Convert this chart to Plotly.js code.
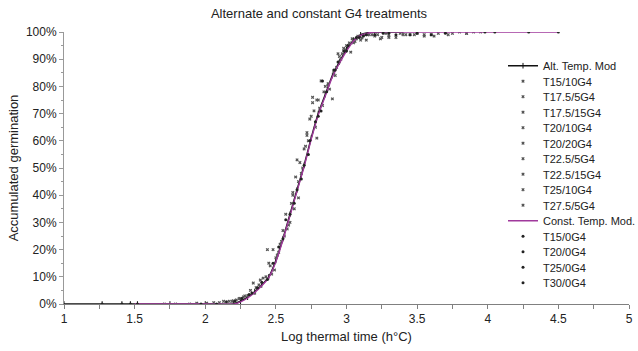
<!DOCTYPE html>
<html>
<head>
<meta charset="utf-8">
<script src="https://cdn.plot.ly/plotly-3.0.1.min.js"></script>
<style>html,body{margin:0;padding:0;background:#fff;}#chart{width:638px;height:351px;}</style>
</head>
<body>
<div id="chart"></div>
<script>
// Model curves
const altModX = [1.0, 1.27, 1.41, 1.47, 1.52, 1.75, 2.0, 2.2, 2.25, 2.3, 2.35, 2.4, 2.45, 2.5, 2.55, 2.6, 2.65, 2.7, 2.75, 2.8, 2.85, 2.9, 2.95, 3.0, 3.05, 3.1, 3.15, 3.2, 3.3, 3.4];
const altModY = [0, 0, 0, 0, 0, 0, 0, 0, 0.01, 0.025, 0.045, 0.07, 0.10, 0.16, 0.24, 0.33, 0.42, 0.51, 0.61, 0.70, 0.77, 0.84, 0.89, 0.935, 0.97, 0.99, 0.997, 1.0, 1.0, 1.0];
const constModX = [1.5, 1.75, 2.0, 2.21, 2.25, 2.3, 2.35, 2.4, 2.45, 2.5, 2.55, 2.6, 2.65, 2.7, 2.75, 2.8, 2.85, 2.9, 2.95, 3.0, 3.05, 3.1, 3.15, 3.2, 3.5, 4.0, 4.5];
const constModY = [0, 0, 0, 0, 0.008, 0.022, 0.042, 0.067, 0.097, 0.155, 0.235, 0.325, 0.415, 0.505, 0.605, 0.695, 0.765, 0.835, 0.885, 0.93, 0.967, 0.988, 0.996, 1.0, 1.0, 1.0, 1.0];

// Alternate temperature treatments
const altNames = ["T15/10G4", "T17.5/5G4", "T17.5/15G4", "T20/10G4", "T20/20G4", "T22.5/5G4", "T22.5/15G4", "T25/10G4", "T27.5/5G4"];
const altX = [
  [1.71, 2.06, 2.27, 2.39, 2.49, 2.57, 2.65, 2.72, 2.79, 2.87, 2.98, 3.10, 3.30, 3.55, 3.75],
  [1.79, 2.13, 2.34, 2.44, 2.53, 2.62, 2.70, 2.76, 2.82, 2.92, 3.03, 3.14, 3.35, 3.60, 3.85],
  [1.89, 2.20, 2.30, 2.45, 2.55, 2.66, 2.74, 2.80, 2.91, 2.99, 3.07, 3.20, 3.42, 3.70],
  [1.94, 2.22, 2.36, 2.48, 2.58, 2.64, 2.72, 2.79, 2.90, 2.95, 3.05, 3.16, 3.38, 3.65],
  [2.01, 2.25, 2.41, 2.50, 2.60, 2.67, 2.77, 2.87, 2.94, 3.00, 3.12, 3.25, 3.48, 3.80],
  [2.10, 2.28, 2.43, 2.52, 2.61, 2.69, 2.76, 2.84, 2.93, 3.02, 3.11, 3.22, 3.45, 3.72],
  [2.17, 2.32, 2.46, 2.56, 2.63, 2.71, 2.78, 2.85, 2.96, 3.04, 3.18, 3.30, 3.50, 3.90],
  [2.24, 2.38, 2.47, 2.54, 2.62, 2.68, 2.75, 2.83, 2.95, 3.06, 3.15, 3.28, 3.55, 3.85],
  [2.19, 2.35, 2.51, 2.59, 2.66, 2.73, 2.81, 2.88, 2.97, 3.08, 3.24, 3.40, 3.62, 3.95]
];
const altY = [
  [0, 0.005, 0.026, 0.088, 0.125, 0.33, 0.53, 0.63, 0.75, 0.81, 0.94, 0.97, 0.985, 0.99, 0.995],
  [0, 0.01, 0.077, 0.20, 0.22, 0.40, 0.57, 0.74, 0.82, 0.84, 0.926, 0.97, 0.98, 0.99, 0.995],
  [0, 0.012, 0.03, 0.15, 0.27, 0.39, 0.68, 0.75, 0.85, 0.935, 0.975, 0.985, 0.99, 1.0],
  [0.003, 0.015, 0.06, 0.20, 0.276, 0.467, 0.62, 0.61, 0.754, 0.89, 0.96, 0.99, 0.995, 0.995],
  [0.003, 0.02, 0.095, 0.17, 0.30, 0.52, 0.71, 0.805, 0.92, 0.95, 0.99, 0.98, 0.99, 1.0],
  [0.005, 0.03, 0.10, 0.19, 0.37, 0.50, 0.76, 0.78, 0.87, 0.96, 0.978, 0.99, 0.99, 0.99],
  [0.01, 0.05, 0.14, 0.25, 0.35, 0.58, 0.65, 0.80, 0.90, 0.975, 0.99, 0.98, 0.995, 1.0],
  [0.02, 0.07, 0.11, 0.23, 0.41, 0.48, 0.69, 0.73, 0.91, 0.965, 0.99, 0.995, 0.985, 0.995],
  [0.01, 0.04, 0.18, 0.29, 0.45, 0.60, 0.72, 0.79, 0.92, 0.985, 0.975, 0.99, 0.985, 1.0]
];

// Constant temperature treatments
const constNames = ["T15/0G4", "T20/0G4", "T25/0G4", "T30/0G4"];
const constX = [
  [1.27, 1.52, 2.26, 2.40, 2.55, 2.68, 2.78, 2.86, 2.98, 3.12, 3.30, 3.60, 4.05, 4.50],
  [1.41, 2.08, 2.31, 2.44, 2.57, 2.65, 2.74, 2.83, 2.94, 3.07, 3.20, 3.50, 4.29],
  [1.47, 2.15, 2.33, 2.48, 2.60, 2.70, 2.80, 2.92, 3.01, 3.14, 3.35, 3.70],
  [1.97, 2.21, 2.37, 2.52, 2.63, 2.73, 2.82, 2.91, 3.00, 3.09, 3.26, 3.45, 3.98]
];
const constY = [
  [0, 0, 0.02, 0.08, 0.24, 0.46, 0.67, 0.78, 0.93, 0.985, 0.995, 0.99, 1.0, 1.0],
  [0, 0, 0.035, 0.09, 0.31, 0.42, 0.60, 0.82, 0.89, 0.98, 0.99, 0.995, 1.0],
  [0, 0.008, 0.04, 0.15, 0.33, 0.51, 0.69, 0.86, 0.95, 0.99, 0.99, 0.995],
  [0, 0.01, 0.06, 0.21, 0.37, 0.55, 0.71, 0.86, 0.93, 0.98, 0.995, 0.99, 1.0]
];

const xTickVals = [1, 1.5, 2, 2.5, 3, 3.5, 4, 4.5, 5];
const yTickVals = [0, 0.1, 0.2, 0.3, 0.4, 0.5, 0.6, 0.7, 0.8, 0.9, 1.0];

const traces = [];
traces.push({
  x: altModX, y: altModY, name: "Alt. Temp. Mod", type: "scatter", mode: "lines+markers",
  line: {color: "#111111", width: 1.5, shape: "spline", smoothing: 0.6},
  marker: {symbol: "line-ns-open", size: 4, color: "#111111", line: {width: 1, color: "#111111"}}
});
altNames.forEach((n, i) => traces.push({
  x: altX[i], y: altY[i], name: n, type: "scatter", mode: "markers",
  marker: {symbol: "x", size: 3, color: "#555555"}
}));
traces.push({
  x: constModX, y: constModY, name: "Const. Temp. Mod.", type: "scatter", mode: "lines",
  line: {color: "#a0399c", width: 1.4, shape: "spline", smoothing: 0.6}
});
constNames.forEach((n, i) => traces.push({
  x: constX[i], y: constY[i], name: n, type: "scatter", mode: "markers",
  marker: {symbol: "circle", size: 3, color: "#222222"}
}));

const font = "Liberation Sans, Arial, sans-serif";
const layout = {
  width: 638, height: 351,
  margin: {l: 64, r: 9, t: 32, b: 47, pad: 0, autoexpand: false},
  paper_bgcolor: "#ffffff", plot_bgcolor: "#ffffff",
  font: {family: font, size: 12, color: "#222222"},
  title: {text: "Alternate and constant G4 treatments", font: {family: font, size: 13, color: "#222222"},
          xref: "container", x: 0.5, xanchor: "center", yref: "container", y: 0.962, yanchor: "middle"},
  showlegend: true,
  legend: {xref: "paper", yref: "paper", x: 0.777, xanchor: "left", y: 0.96, yanchor: "top",
           bgcolor: "rgba(0,0,0,0)", maxheight: 330, borderwidth: 0,
           font: {family: font, size: 11, color: "#222222"}, itemwidth: 30, traceorder: "normal"},
  xaxis: {
    range: [1, 5], tickvals: xTickVals, ticktext: xTickVals.map(String),
    showline: true, linecolor: "#808080", linewidth: 1, showgrid: false, zeroline: false,
    ticks: "outside", ticklen: 4, tickcolor: "#808080",
    minor: {dtick: 0.25, tick0: 1, ticks: "outside", ticklen: 4, tickcolor: "#808080", showgrid: false},
    tickfont: {family: font, size: 12, color: "#222222"},
    title: {text: "Log thermal time (h°C)", font: {family: font, size: 13, color: "#222222"}, standoff: 6},
    automargin: false
  },
  yaxis: {
    range: [0, 1], tickvals: yTickVals, tickformat: ".0%",
    showline: true, linecolor: "#999999", linewidth: 1, showgrid: false, zeroline: false,
    ticks: "outside", ticklen: 4, tickcolor: "#999999",
    minor: {dtick: 0.05, tick0: 0, ticks: "outside", ticklen: 2, tickcolor: "#999999", showgrid: false},
    tickfont: {family: font, size: 12, color: "#222222"},
    title: {text: "Accumulated germination", font: {family: font, size: 13, color: "#222222"}, standoff: 4},
    automargin: false
  }
};

// legend row spacing and first-row centre, as in the reference
const legendRowGap = 15.5;
const legendFirstRowY = 66;

Plotly.newPlot("chart", traces, layout, {displayModeBar: false, staticPlot: true}).then(gd => {
  const parse = el => {
    const m = /translate\(\s*([-\d.e]+)[ ,]+([-\d.e]+)/.exec(el.getAttribute("transform") || "");
    return m ? [parseFloat(m[1]), parseFloat(m[2])] : [0, 0];
  };
  const items = Array.from(gd.querySelectorAll("g.legend g.traces"));
  if (!items.length) return;
  const y0 = parse(items[0])[1];
  items.forEach((el, i) => {
    const x = parse(el)[0];
    el.setAttribute("transform", "translate(" + x + "," + (y0 + i * legendRowGap) + ")");
  });
  const leg = gd.querySelector("g.legend");
  const txt = items[0].querySelector("text.legendtext");
  if (leg && txt) {
    const r = txt.getBoundingClientRect();
    const gr = gd.getBoundingClientRect();
    const cy = r.top - gr.top + r.height / 2;
    const [lx, ly] = parse(leg);
    leg.setAttribute("transform", "translate(" + lx + "," + (ly + legendFirstRowY - cy) + ")");
  }
});
</script>
</body>
</html>
